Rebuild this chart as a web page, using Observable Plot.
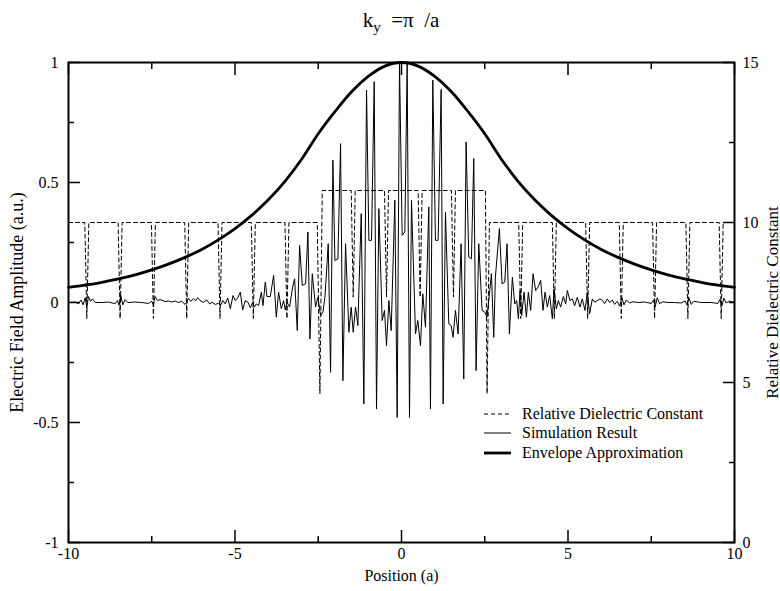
<!DOCTYPE html>
<html><head><meta charset="utf-8">
<script src="https://cdn.jsdelivr.net/npm/d3@7"></script>
<script src="https://cdn.jsdelivr.net/npm/@observablehq/plot@0.6"></script>
<style>
body{margin:0;background:#fff;font-family:"Liberation Serif",serif;color:#000;}
#wrap{position:relative;width:780px;height:591px;}
#title{height:40px;padding-left:68px;width:666px;text-align:center;font-size:21px;line-height:40px;white-space:pre;}
#title sub{font-size:15px;vertical-align:-5px;line-height:0;}
#legend{position:absolute;left:484px;top:404px;font-size:16px;}
.row{display:flex;align-items:center;height:19.5px;white-space:nowrap;}
.row svg{margin-right:11px;display:block;}
</style></head>
<body>
<div id="wrap">
<div id="title">k<sub>y</sub>  =π  /a</div>
<div id="chart"></div>
<div id="legend"></div>
</div>
<script>
// ---- data ----
const xMajorTicks = [-10, -5, 0, 5, 10];
const xMinorTicks = [-7.5, -2.5, 2.5, 7.5];
const yMajorTicks = [-1, -0.5, 0, 0.5, 1];
const yMinorTicks = [-0.75, -0.25, 0.25, 0.75];
const epsMajorTicks = [0, 5, 10, 15];
const epsMinorTicks = [2.5, 7.5, 12.5];

const legendLabels = ["Relative Dielectric Constant", "Simulation Result", "Envelope Approximation"];

// relative dielectric constant profile (x in a, eps)
const dielectricProfile = [
  [-10, 10],
  [-9.51, 10], [-9.45, 7], [-9.39, 10],
  [-8.51, 10], [-8.45, 7], [-8.39, 10],
  [-7.51, 10], [-7.45, 7], [-7.39, 10],
  [-6.51, 10], [-6.45, 7], [-6.39, 10],
  [-5.51, 10], [-5.45, 7], [-5.39, 10],
  [-4.51, 10], [-4.45, 7], [-4.39, 10],
  [-3.50, 10], [-3.44, 7], [-3.38, 10],
  [-2.53, 10], [-2.45, 4.65], [-2.38, 11],
  [-1.51, 11], [-1.45, 7.67], [-1.39, 11],
  [-0.51, 11], [-0.45, 7.67], [-0.39, 11],
  [0.50, 11], [0.56, 7.67], [0.62, 11],
  [1.50, 11], [1.56, 7.67], [1.62, 11],
  [2.52, 11], [2.57, 4.65], [2.64, 10],
  [3.52, 10], [3.58, 7], [3.64, 10],
  [4.53, 10], [4.59, 7], [4.65, 10],
  [5.53, 10], [5.59, 7], [5.65, 10],
  [6.54, 10], [6.60, 7], [6.66, 10],
  [7.54, 10], [7.60, 7], [7.66, 10],
  [8.54, 10], [8.60, 7], [8.66, 10],
  [9.54, 10], [9.60, 7], [9.66, 10],
  [10, 10]
];

// simulated electric field amplitude (x in a, a.u.)
const simulationResult = [
  [-10, 0], [-9.8, 0.002], [-9.7, -0.005], [-9.62, 0.01], [-9.56, -0.01], [-9.5, 0.02], [-9.45, -0.02], [-9.4, 0.025],
  [-9.34, 0.005], [-9.28, 0.015], [-9.2, 0], [-9.0, 0], [-8.8, 0.002], [-8.6, -0.005], [-8.53, 0.008], [-8.48, -0.012],
  [-8.43, 0.03], [-8.37, -0.01], [-8.3, 0.012], [-8.22, 0], [-8.0, 0.002], [-7.8, 0], [-7.6, -0.004], [-7.5, 0.005],
  [-7.45, -0.01], [-7.4, 0.025], [-7.33, 0.008], [-7.25, 0.012], [-7.1, 0.004], [-7.0, 0.006], [-6.9, 0.002], [-6.8, 0.006],
  [-6.7, 0], [-6.6, 0.005], [-6.5, -0.008], [-6.45, 0], [-6.4, 0.018], [-6.33, 0.005], [-6.25, 0.015], [-6.18, 0.008],
  [-6.12, 0.02], [-6.05, 0.008], [-5.95, 0.001], [-5.85, 0.011], [-5.76, -0.006], [-5.69, 0.001], [-5.59, -0.008],
  [-5.49, -0.003], [-5.44, -0.013], [-5.36, 0.008], [-5.29, -0.006], [-5.22, 0.019], [-5.14, -0.026], [-5.06, 0.029],
  [-4.99, 0.008], [-4.92, 0.019], [-4.84, 0.043], [-4.77, -0.031], [-4.69, 0.008], [-4.61, 0.001], [-4.54, -0.022],
  [-4.47, 0.001], [-4.42, -0.019], [-4.36, -0.006], [-4.29, -0.013], [-4.21, 0.043], [-4.16, -0.013], [-4.09, 0.085],
  [-4.04, 0.025], [-3.94, 0.025], [-3.84, 0.113], [-3.76, -0.061], [-3.69, 0.043], [-3.61, -0.026], [-3.54, 0.008],
  [-3.49, -0.031], [-3.44, 0.001], [-3.36, -0.019], [-3.27, 0.064], [-3.21, 0.099], [-3.13, -0.117],
  [-3.06, 0.238], [-2.98, 0.071], [-2.88, 0.078], [-2.81, 0.294], [-2.75, -0.152], [-2.68, 0.12], [-2.58, -0.019],
  [-2.51, 0.022], [-2.43, -0.054], [-2.36, -0.04], [-2.30, 0.022], [-2.20, 0.245], [-2.13, -0.291], [-2.06, 0.593],
  [-2.00, 0.175], [-1.91, 0.182], [-1.83, 0.662], [-1.76, -0.326], [-1.68, 0.245], [-1.58, -0.124], [-1.51, -0.019],
  [-1.45, -0.124], [-1.38, -0.019], [-1.31, -0.096], [-1.21, 0.37], [-1.13, -0.423], [-1.05, 0.885], [-0.98, 0.259],
  [-0.90, 0.259], [-0.82, 0.92], [-0.75, -0.444], [-0.68, 0.391], [-0.58, -0.075], [-0.51, -0.033], [-0.45, -0.18],
  [-0.38, 0.008], [-0.31, -0.117], [-0.20, 0.426], [-0.13, -0.479], [-0.06, 0.997], [0.02, 0.28], [0.10, 0.294],
  [0.17, 0.997], [0.24, -0.479], [0.30, 0.426], [0.42, -0.131], [0.49, -0.075], [0.57, -0.18], [0.64, 0.036],
  [0.72, -0.103], [0.82, 0.398], [0.87, -0.444], [0.94, 0.927], [1.02, 0.259], [1.10, 0.259], [1.19, 0.888],
  [1.25, -0.423], [1.32, 0.377], [1.42, -0.089], [1.49, -0.096], [1.55, -0.145], [1.62, -0.033], [1.70, -0.131],
  [1.79, 0.245], [1.87, -0.319], [1.94, 0.669], [2.02, 0.189], [2.10, 0.182], [2.17, 0.6], [2.24, -0.284],
  [2.32, 0.245], [2.42, -0.033], [2.50, -0.04], [2.57, -0.061], [2.64, 0.036], [2.70, 0.12], [2.77, -0.145],
  [2.82, 0.106], [2.94, 0.308], [3.02, 0.078], [3.10, 0.085], [3.17, 0.245], [3.24, -0.131],
  [3.33, 0.106], [3.40, -0.006], [3.46, 0.008], [3.51, -0.068], [3.56, 0.05], [3.61, -0.054], [3.68, 0.043],
  [3.75, -0.061], [3.81, 0.043], [3.88, -0.033], [3.95, 0.12], [4.03, 0.05], [4.10, 0.064], [4.18, 0.092],
  [4.25, -0.033], [4.31, 0.043], [4.38, -0.019], [4.45, 0.029], [4.53, -0.068], [4.58, 0.057], [4.65, -0.026],
  [4.71, 0.008], [4.78, -0.019], [4.86, 0.025], [4.93, -0.006], [4.98, 0.05], [5.06, 0.008], [5.13, 0.015],
  [5.20, -0.013], [5.28, 0.022], [5.36, -0.019], [5.43, 0.015], [5.51, -0.033], [5.58, 0.043], [5.65, -0.047],
  [5.73, 0.015], [5.80, 0.001], [5.88, 0.008], [5.96, 0.015],
  [6.03, 0.01], [6.1, -0.005], [6.18, 0.015], [6.25, 0], [6.33, 0.01], [6.4, -0.008], [6.48, 0.005], [6.55, -0.015],
  [6.62, 0.02], [6.68, -0.01], [6.75, 0.01], [6.85, -0.002], [6.95, 0.003], [7.1, 0], [7.3, 0.002], [7.5, -0.004],
  [7.57, 0.01], [7.62, -0.018], [7.68, 0.02], [7.75, -0.005], [7.85, 0.003], [8.0, 0], [8.2, 0], [8.4, -0.002],
  [8.52, 0.006], [8.58, -0.012], [8.63, 0.02], [8.7, -0.008], [8.78, 0.005], [9.0, 0], [9.3, 0], [9.5, -0.004],
  [9.56, 0.012], [9.62, -0.015], [9.68, 0.018], [9.75, -0.002], [9.85, 0.006], [10, 0]
];

// envelope approximation (x in a, a.u.)
const envelopeApprox = [
  [-10, 0.063], [-9.5, 0.072], [-9, 0.084], [-8.5, 0.098], [-8, 0.115], [-7.5, 0.136], [-7, 0.160],
  [-6.5, 0.188], [-6, 0.221], [-5.5, 0.261], [-5, 0.308], [-4.5, 0.363], [-4, 0.428], [-3.5, 0.505],
  [-3, 0.597], [-2.5, 0.703], [-2, 0.795], [-1.5, 0.878], [-1, 0.942], [-0.5, 0.985], [0, 1.0],
  [0.5, 0.985], [1, 0.942], [1.5, 0.878], [2, 0.795], [2.5, 0.703], [3, 0.597], [3.5, 0.505],
  [4, 0.428], [4.5, 0.363], [5, 0.308], [5.5, 0.261], [6, 0.221], [6.5, 0.188], [7, 0.160],
  [7.5, 0.136], [8, 0.115], [8.5, 0.098], [9, 0.084], [9.5, 0.072], [10, 0.063]
];

// ---- right axis (dielectric) shares the plot height: eps 0..15 <-> field -1..1 ----
const epsToField = e => e / 7.5 - 1;
const fieldToEps = v => (v + 1) * 7.5;

const dielectric = dielectricProfile.map(([x, eps]) => ({x, eps}));
const sim = simulationResult.map(([x, y]) => ({x, y}));
const env = envelopeApprox.map(([x, y]) => ({x, y}));

const font = "Liberation Serif";
const chart = Plot.plot({
  width: 780,
  height: 551,
  marginTop: 22,
  marginBottom: 49,
  marginLeft: 68,
  marginRight: 46,
  style: {fontFamily: font, fontSize: "16px", color: "black", background: "white", overflow: "visible"},
  x: {domain: [-10, 10]},
  y: {domain: [-1, 1]},
  marks: [
    Plot.line(dielectric, {x: "x", y: d => epsToField(d.eps), stroke: "black", strokeWidth: 1, strokeDasharray: "4,3"}),
    Plot.line(sim, {x: "x", y: "y", stroke: "black", strokeWidth: 1}),
    Plot.line(env, {x: "x", y: "y", stroke: "black", strokeWidth: 2.8, curve: "monotone-x"}),
    Plot.frame({stroke: "black", strokeWidth: 2}),
    // bottom axis
    Plot.axisX(xMajorTicks, {anchor: "bottom", tickSize: 0, tickPadding: 5, tickFormat: d => String(d),
      label: "Position (a)", labelAnchor: "center", labelArrow: "none", labelOffset: 38, fontSize: 16}),
    Plot.axisX(xMajorTicks, {anchor: "bottom", tickSize: 12, dy: -12, fill: "none", strokeWidth: 1.5}),
    Plot.axisX(xMinorTicks, {anchor: "bottom", tickSize: 6, dy: -6, fill: "none", strokeWidth: 1.5}),
    // top mirror ticks
    Plot.axisX(xMajorTicks, {anchor: "top", tickSize: 12, dy: 12, fill: "none", strokeWidth: 1.5}),
    Plot.axisX(xMinorTicks, {anchor: "top", tickSize: 6, dy: 6, fill: "none", strokeWidth: 1.5}),
    // left axis: tick labels, then title
    Plot.axisY(yMajorTicks, {anchor: "left", tickSize: 0, tickPadding: 10, tickFormat: d => String(d),
      label: null, fontSize: 16}),
    Plot.axisY([], {anchor: "left", tickSize: 0, label: "Electric Field Amplitude (a.u.)",
      labelAnchor: "center", labelArrow: "none", labelOffset: 58, fontSize: 18}),
    Plot.axisY(yMajorTicks, {anchor: "left", tickSize: 12, dx: 12, fill: "none", strokeWidth: 1.5}),
    Plot.axisY(yMinorTicks, {anchor: "left", tickSize: 6, dx: 6, fill: "none", strokeWidth: 1.5}),
    // right axis (dielectric constant)
    Plot.axisY(epsMajorTicks.map(epsToField), {anchor: "right", tickSize: 0, tickPadding: 8,
      tickFormat: d => String(Math.round(fieldToEps(d))), label: null, fontSize: 16}),
    Plot.axisY([], {anchor: "right", tickSize: 0, label: "Relative Dielectric Constant",
      labelAnchor: "center", labelArrow: "none", labelOffset: 43, fontSize: 17}),
    Plot.axisY(epsMajorTicks.map(epsToField), {anchor: "right", tickSize: 12, dx: -12, fill: "none", strokeWidth: 1.5}),
    Plot.axisY(epsMinorTicks.map(epsToField), {anchor: "right", tickSize: 6, dx: -6, fill: "none", strokeWidth: 1.5})
  ]
});
document.getElementById("chart").appendChild(chart);

// legend
const legendStyles = [
  {w: 1, dash: "4,3"},
  {w: 1, dash: null},
  {w: 2.8, dash: null}
];
const legend = d3.select("#legend");
legendLabels.forEach((label, i) => {
  const row = legend.append("div").attr("class", "row");
  const svg = row.append("svg").attr("width", 27).attr("height", 8);
  svg.append("line").attr("x1", 0).attr("x2", 27).attr("y1", 4).attr("y2", 4)
    .attr("stroke", "black").attr("stroke-width", legendStyles[i].w)
    .attr("stroke-dasharray", legendStyles[i].dash);
  row.append("span").text(label);
});
</script>
</body></html>
